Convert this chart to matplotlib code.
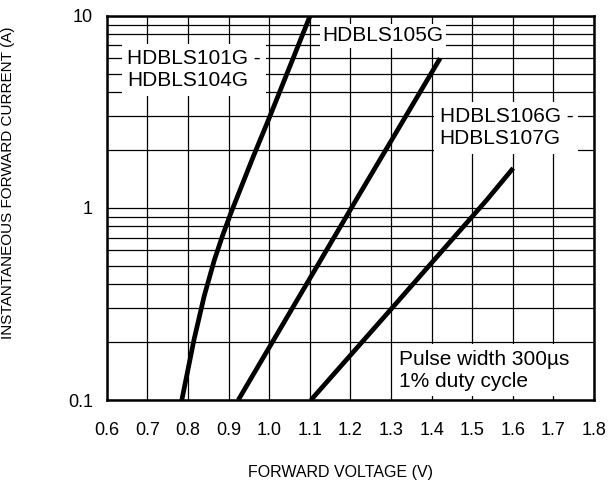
"""
Forward voltage vs instantaneous forward current (HDBLS101G - HDBLS107G)
"""

import matplotlib
matplotlib.use('Agg')
import matplotlib.pyplot as plt
from matplotlib.ticker import FixedLocator, NullFormatter

plt.rcParams['font.family'] = ['Liberation Sans', 'DejaVu Sans']
plt.rcParams['xtick.labelsize'] = 13
plt.rcParams['ytick.labelsize'] = 13

# Curve data (V, A)
v_101_104 = [0.785, 0.815, 0.840, 0.865, 0.885, 0.905, 0.961, 1.002, 1.101]
i_101_104 = [0.1, 0.206, 0.347, 0.534, 0.714, 0.93, 1.85, 3.0, 10.0]

v_105 = [0.924, 1.212, 1.421]
i_105 = [0.1, 1.08, 6.0]

v_106_107 = [1.103, 1.302, 1.536, 1.601]
i_106_107 = [0.1, 0.30, 1.1, 1.61]

x_ticks = [0.6, 0.7, 0.8, 0.9, 1.0, 1.1, 1.2, 1.3, 1.4, 1.5, 1.6, 1.7, 1.8]
x_tick_labels = ['0.6', '0.7', '0.8', '0.9', '1.0', '1.1', '1.2', '1.3',
                 '1.4', '1.5', '1.6', '1.7', '1.8']
y_ticks = [0.1, 1, 10]
y_tick_labels = ['0.1', '1', '10']

fig = plt.figure(figsize=(6.16, 4.82), dpi=100)
ax = fig.add_axes([0.1732, 0.1701, 0.7911, 0.7973])

ax.set_yscale('log')
ax.set_xlim(0.6, 1.8)
ax.set_ylim(0.1, 10)

# grid
ax.set_xticks(x_ticks)
ax.set_xticklabels(x_tick_labels)
ax.set_yticks(y_ticks)
ax.set_yticklabels(y_tick_labels)
minor_y = [m * d for d in (0.1, 1) for m in range(2, 10)]
ax.yaxis.set_minor_locator(FixedLocator(minor_y))
ax.yaxis.set_minor_formatter(NullFormatter())
ax.grid(True, which='both', axis='y', color='black', linewidth=0.9, zorder=1)
ax.grid(True, which='major', axis='x', color='black', linewidth=0.9, zorder=1)
ax.set_axisbelow(True)

ax.tick_params(axis='both', which='both', length=0)
ax.tick_params(axis='x', pad=16)
ax.tick_params(axis='y', pad=10)

for s in ax.spines.values():
    s.set_linewidth(1.8)

# curves
for vv, ii in [(v_101_104, i_101_104), (v_105, i_105), (v_106_107, i_106_107)]:
    ax.plot(vv, ii, color='black', linewidth=3.4, solid_capstyle='butt',
            solid_joinstyle='round', zorder=3)

# labels in white boxes
box = dict(boxstyle='square,pad=0.25', facecolor='white', edgecolor='none')
ax.text(0.042, 0.859, 'HDBLS101G -\nHDBLS104G', transform=ax.transAxes,
        fontsize=15, ha='left', va='center', linespacing=1.2, bbox=box, zorder=4)
ax.text(0.443, 0.948, 'HDBLS105G', transform=ax.transAxes,
        fontsize=15, ha='left', va='center', bbox=dict(boxstyle='square,pad=0.12',
        facecolor='white', edgecolor='none'), zorder=4)
ax.text(0.683, 0.708, 'HDBLS106G -\nHDBLS107G', transform=ax.transAxes,
        fontsize=15, ha='left', va='center', linespacing=1.2, bbox=box, zorder=4)
ax.text(0.600, 0.078, 'Pulse width 300\u00b5s\n1% duty cycle', transform=ax.transAxes,
        fontsize=15, ha='left', va='center', linespacing=1.2, bbox=box, zorder=4)

ax.set_xlabel('FORWARD VOLTAGE (V)', fontsize=11.5)
ax.set_ylabel('INSTANTANEOUS FORWARD CURRENT (A)', fontsize=11)
ax.xaxis.set_label_coords(0.479, -0.169)
ax.yaxis.set_label_coords(-0.188, 0.565)

plt.savefig('out.png', dpi=100)
plt.close()
